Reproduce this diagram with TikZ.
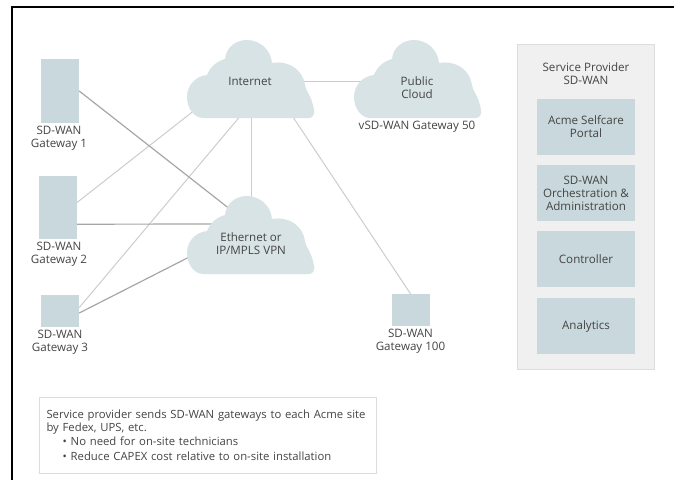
\documentclass[tikz,border=0pt]{standalone}
\usepackage{fontspec}
\setmainfont{Open Sans}
\definecolor{cloudfill}{HTML}{D8E3E6}
\definecolor{boxfill}{HTML}{C9D8DC}
\definecolor{panelfill}{HTML}{F0F0F0}
\definecolor{panelline}{HTML}{DDDDDD}
\definecolor{txtgray}{HTML}{444444}
\tikzset{
  txt/.style={text=txtgray,font=\fontsize{11.6}{13}\selectfont,align=center,inner sep=0pt},
  gwbox/.style={fill=boxfill,inner sep=0pt,minimum width=38pt},
  panelbox/.style={txt,fill=boxfill,minimum width=98pt,minimum height=56pt},
  lightline/.style={draw=black!20,line width=1pt},
  darkline/.style={draw=black!35,line width=1.2pt},
  netcloud/.pic={
    \fill[cloudfill] (16,78) .. controls (7,78) and (0,68) .. (0,57)
      .. controls (0,45) and (9,36) .. (20,35)
      .. controls (23,27) and (30,21) .. (38,19)
      .. controls (39,8) and (48,0) .. (60,0)
      .. controls (73,0) and (84,10) .. (85,23)
      .. controls (102,20) and (116,30) .. (118,45)
      .. controls (118,50) and (125,56) .. (127,70)
      .. controls (128,75) and (125,78) .. (122,78) -- cycle;
  }
}
\begin{document}
\begin{tikzpicture}[x=1pt,y=-1pt]
  \useasboundingbox (0,0) rectangle (674,480);
  \draw[line width=2pt] (11.5,480) -- (11.5,7) -- (674,7);

  % gateways
  \node[gwbox,minimum height=64pt] (gwone) at (60,91) {};
  \node[gwbox,minimum height=63pt] (gwtwo) at (58,207.5) {};
  \node[gwbox,minimum height=32pt] (gwthree) at (60,311) {};
  \node[gwbox,minimum height=32pt] (gwhundred) at (410.5,310) {};
  \node[txt] (gwonetxt) at (59,138.5) {SD-WAN\\Gateway 1};
  \node[txt] (gwtwotxt) at (59,254.5) {SD-WAN\\Gateway 2};
  \node[txt] (gwthreetxt) at (60,342) {SD-WAN\\Gateway 3};
  \node[txt] (gwhundredtxt) at (410.5,341.5) {SD-WAN\\Gateway 100};

  % where the lines stop, behind the clouds
  \coordinate (inetgwtwo) at (205,102);
  \coordinate (inetgwthree) at (247,108);
  \coordinate (inetgwhundred) at (287,108);
  \coordinate (vpngwone) at (240,217);
  \coordinate (vpngwtwo) at (225,224);
  \coordinate (vpngwthree) at (205,249);
  \coordinate (inetbottom) at (251,110);
  \coordinate (vpntop) at (251,205);
  \coordinate (inetright) at (300,81);
  \coordinate (pubcloudleft) at (370,81);

  \draw[lightline] (gwtwo.15) -- (inetgwtwo);
  \draw[lightline] (gwthree.10) -- (inetgwthree);
  \draw[lightline] (inetgwhundred) -- (gwhundred.north);
  \draw[lightline] (inetbottom) -- (vpntop);
  \draw[lightline] (inetright) -- (pubcloudleft);
  \draw[darkline] (gwone.east) -- (vpngwone);
  \draw[darkline] (gwtwo.-41) -- (vpngwtwo);
  \draw[darkline] (gwthree.-6) -- (vpngwthree);

  % clouds
  \pic at (187,40) {netcloud};
  \pic at (187,196) {netcloud};
  \pic at (354,40) {netcloud};
  \node[txt] (inet) at (250,81) {Internet};
  \node[txt] (vpn) at (251,243.5) {Ethernet or\\IP/MPLS VPN};
  \node[txt] (pubcloud) at (417,87.5) {Public\\Cloud};
  \node[txt] (pubcloudtxt) at (417,126.5) {vSD-WAN Gateway 50};

  % service provider panel
  \node[draw=panelline,fill=panelfill,minimum width=137pt,minimum height=325pt,inner sep=0pt] (panel) at (585.5,206.5) {};
  \node[txt] (paneltxt) at (586,73.5) {Service Provider\\SD-WAN};
  \node[panelbox] (portal) at (586,127) {Acme Selfcare\\Portal};
  \node[panelbox] (orch) at (586,193) {SD-WAN\\Orchestration \&\\Administration};
  \node[panelbox] (ctrl) at (586,259) {Controller};
  \node[panelbox] (analytics) at (586,326) {Analytics};

  % note
  \node[txt,font=\fontsize{11.3}{13}\selectfont,draw=panelline,fill=white,align=left,minimum width=337pt,minimum height=76pt,text width=322pt] (note) at (207.5,435)
    {Service provider sends SD-WAN gateways to each Acme site\\
     by Fedex, UPS, etc.\\[1.5pt]
     \hspace*{16pt}•\hspace{4pt}No need for on-site technicians\\[1.5pt]
     \hspace*{16pt}•\hspace{4pt}Reduce CAPEX cost relative to on-site installation};
\end{tikzpicture}
\end{document}
